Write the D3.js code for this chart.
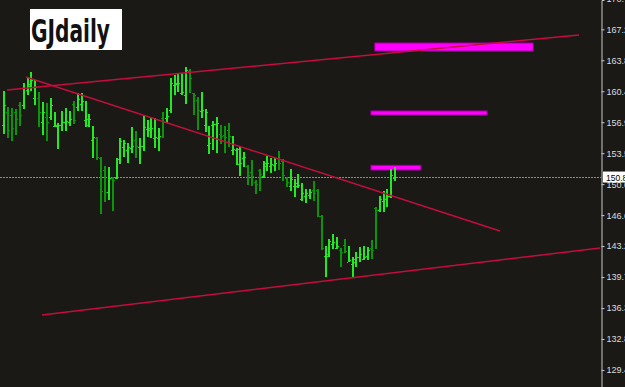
<!DOCTYPE html>
<html><head><meta charset="utf-8">
<script src="https://cdnjs.cloudflare.com/ajax/libs/d3/7.8.5/d3.min.js"></script>
<style>html,body{margin:0;padding:0;background:#1b1915;overflow:hidden}</style>
</head><body><svg id="c" width="625" height="387"></svg>
<script>
// ---- data (GBPJPY daily) ----
const barNumbers = d3.range(1, 103);
const highs = [160.43,158.65,158.54,158.43,159.21,161.31,161.98,162.54,161.65,160.32,159.21,159.09,159.65,158.10,156.87,158.21,158.54,158.21,159.32,160.20,160.20,159.32,157.87,156.54,155.32,153.10,152.10,151.98,150.87,152.98,155.21,154.98,154.65,156.43,155.98,155.21,157.65,157.21,157.43,157.43,156.32,158.10,158.54,161.87,162.20,162.43,162.43,163.09,162.87,160.20,159.76,160.32,158.43,156.54,157.10,157.54,156.65,156.54,156.87,155.43,154.10,154.21,153.65,152.21,152.76,150.54,151.76,152.65,153.21,152.98,152.98,153.76,152.87,150.87,151.76,150.65,151.21,150.21,149.54,149.54,150.43,149.54,146.66,143.21,143.99,144.54,144.21,142.99,143.99,143.21,141.99,142.55,143.10,143.21,143.10,143.88,147.54,148.77,149.32,149.54,151.76,151.98];
const lows = [155.65,155.21,154.87,155.54,156.54,158.43,159.98,160.43,158.87,156.43,155.54,154.87,157.21,156.43,153.98,155.98,155.98,156.54,156.76,158.21,158.21,156.43,156.43,152.98,152.76,146.77,148.10,148.32,147.10,150.65,152.32,153.10,152.43,153.54,152.98,152.32,153.76,155.32,155.21,154.10,153.76,155.21,156.87,157.98,159.98,160.32,159.98,158.98,160.20,157.76,156.09,157.43,155.87,153.43,153.87,153.54,154.54,153.54,154.21,153.32,152.21,150.99,151.98,149.99,149.88,148.99,149.32,150.76,151.54,151.32,151.54,151.65,150.43,149.76,149.32,148.65,149.65,148.21,147.99,148.43,148.21,146.43,142.77,139.77,141.99,142.88,142.88,140.88,142.43,141.43,139.66,140.88,141.43,141.66,141.66,141.77,142.88,146.99,146.99,147.54,148.54,150.43];
const opens = [156.65,158.10,157.76,158.10,158.87,158.87,160.54,160.98,159.65,159.65,156.98,157.54,157.54,156.54,156.54,156.65,156.98,156.98,158.98,158.65,158.98,157.21,156.65,154.98,155.21,152.98,151.65,149.21,150.76,150.76,152.87,154.21,153.87,154.10,154.98,154.21,154.32,156.21,156.09,155.21,155.21,157.43,157.43,158.32,161.09,161.20,160.20,159.98,162.65,160.20,159.43,158.21,156.65,154.43,156.65,156.76,155.65,155.54,156.09,153.87,153.87,152.32,152.98,152.10,151.43,150.32,151.65,150.99,152.10,152.10,152.21,152.98,152.65,150.76,149.88,149.88,149.88,148.43,148.77,148.88,149.43,149.43,146.54,142.10,142.10,143.43,142.99,142.77,143.32,141.43,141.21,141.77,141.99,141.77,142.10,142.99,147.43,147.21,148.21,148.43,148.77,150.76];
const closes = [158.87,156.09,156.32,157.32,157.76,160.76,161.20,161.65,160.87,158.10,158.10,156.98,158.87,156.65,156.65,156.98,157.10,157.32,157.21,159.54,159.32,157.32,157.32,155.32,153.10,149.32,149.21,150.76,150.54,152.87,154.87,154.65,154.21,154.32,154.32,154.32,156.43,156.32,156.32,155.32,155.43,156.98,157.65,161.31,161.31,161.31,160.32,162.76,161.87,159.98,158.32,158.32,158.10,154.65,156.76,156.87,155.43,155.32,155.43,153.98,153.98,152.43,153.10,151.10,150.99,150.10,151.21,152.43,152.43,152.32,152.43,152.43,151.10,150.32,150.65,150.21,149.99,149.10,149.10,149.21,149.10,146.54,142.99,142.32,143.77,143.66,143.21,142.55,142.66,141.66,141.43,141.99,142.32,141.99,142.77,142.77,147.21,148.43,148.43,148.77,151.10,150.87];
const currentPrice = 150.87;
const tickValues = [170.72,167.28,163.84,160.40,156.96,153.52,150.08,146.64,143.20,139.76,136.32,132.88,129.44];
// trendlines: [barIndex, price] end points
const trendUpper = [[0.96,160.54],[148.76,166.65]];
const trendDown  = [[5.87,161.98],[128.35,144.88]];
const trendLower = [[10.0,135.55],[154.2,142.99]];
// magenta zones: [barStart, barEnd, priceTop, priceBottom]
const zones = [[96.0,136.9,165.76,164.87],[95.0,125.0,158.21,157.76],[95.0,107.9,152.17,151.65]];
const title = "GJdaily";

// ---- drawing ----
const W = 625, H = 387, axisX = 601;
const svg = d3.select("#c");
svg.append("rect").attr("width",W).attr("height",H).attr("fill","#1b1915");
const y = d3.scaleLinear().domain([170.534,127.549]).range([0,H]);
const x = d3.scaleLinear().domain([0,101]).range([3.3,394.2]);

const bars = barNumbers.map((n,i)=>({i, h:highs[i], l:lows[i], o:opens[i], c:closes[i]}));

const plot = svg.append("g");
// zones
plot.selectAll(".zone").data(zones).join("rect")
  .attr("x",d=>x(d[0])).attr("y",d=>y(d[2]))
  .attr("width",d=>x(d[1])-x(d[0])).attr("height",d=>y(d[3])-y(d[2]))
  .attr("fill","#ff00ff").attr("stroke","#a000a0").attr("stroke-width",1);

// current price dotted line
plot.append("line").attr("x1",0).attr("x2",axisX).attr("y1",Math.round(y(currentPrice))+0.5).attr("y2",Math.round(y(currentPrice))+0.5)
  .attr("stroke","#7d8ea6").attr("stroke-width",1).attr("stroke-dasharray","2,1");

// bars (OHLC: left tick = open, right tick = close)
const gb = plot.append("g").attr("shape-rendering","crispEdges");
bars.forEach(b=>{
  const col = b.c >= b.o ? "#22ea22" : "#0c930c";
  const cx = Math.round(x(b.i));
  gb.append("line").attr("x1",cx+1).attr("x2",cx+1).attr("y1",Math.round(y(b.h))).attr("y2",Math.round(y(b.l))).attr("stroke",col).attr("stroke-width",2);
  gb.append("line").attr("x1",cx-1).attr("x2",cx).attr("y1",Math.round(y(b.o))+0.5).attr("y2",Math.round(y(b.o))+0.5).attr("stroke",col).attr("stroke-width",1);
  gb.append("line").attr("x1",cx+2).attr("x2",cx+3).attr("y1",Math.round(y(b.c))+0.5).attr("y2",Math.round(y(b.c))+0.5).attr("stroke",col).attr("stroke-width",1);
});

// trendlines
const line = d3.line().x(d=>x(d[0])).y(d=>y(d[1]));
[trendUpper,trendDown,trendLower].forEach(t=>{
  plot.append("path").attr("d",line(t)).attr("fill","none").attr("stroke","#c50d3e").attr("stroke-width",1.5);
});

// axis
const axis = d3.axisRight(y).tickValues(tickValues).tickSize(3).tickFormat(d3.format(".3f"));
const ga = svg.append("g").attr("transform",`translate(${axisX+0.5},0)`).call(axis);
ga.select(".domain").attr("stroke","#c8c8c8");
ga.selectAll(".tick line").attr("stroke","#c8c8c8");
ga.selectAll(".tick text").attr("fill","#dcdcdc").attr("x",5)
  .style("font-family","'Liberation Sans Narrow','Liberation Sans',sans-serif").style("font-size","9px");

// current price label
const gp = svg.append("g").attr("transform",`translate(${axisX+2},${y(currentPrice)})`);
gp.append("rect").attr("x",0).attr("y",-5.5).attr("width",30).attr("height",11).attr("fill","#ffffff");
gp.append("text").attr("x",3).attr("y",3.5).text(d3.format(".3f")(currentPrice))
  .attr("fill","#000").style("font-family","'Liberation Sans Narrow','Liberation Sans',sans-serif").style("font-size","8.5px");

// title box
svg.append("rect").attr("x",30).attr("y",9).attr("width",92).attr("height",41).attr("fill","#ffffff");
svg.append("text").attr("x",31).attr("y",42).text(title)
  .attr("textLength",79).attr("lengthAdjust","spacingAndGlyphs")
  .attr("fill","#111").style("font-family","'DejaVu Sans Condensed','DejaVu Sans',sans-serif")
  .style("font-weight","bold").style("font-size","32px");
</script></body></html>
